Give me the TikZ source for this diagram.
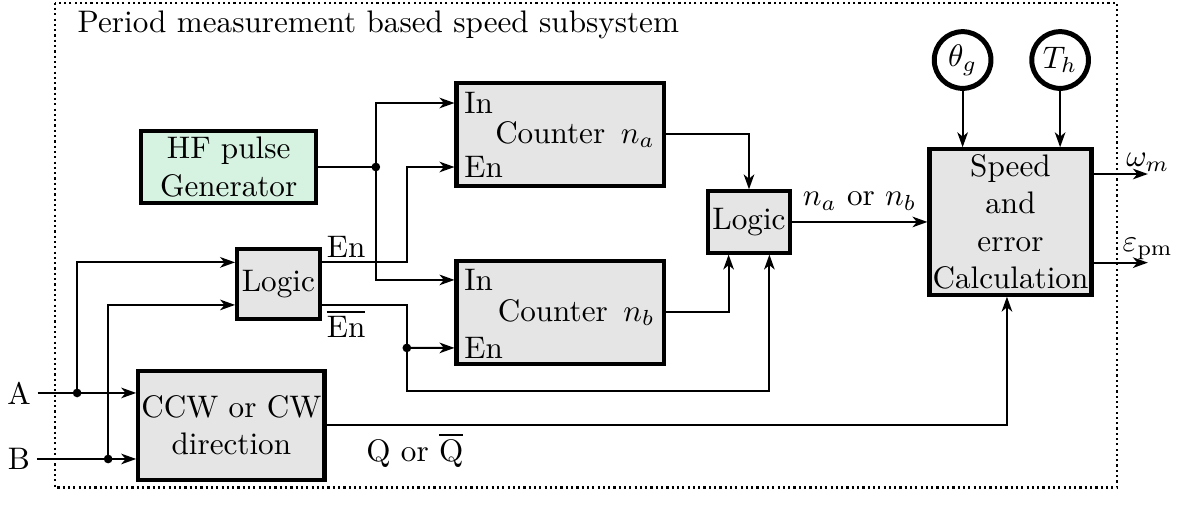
\documentclass[tikz,border=0pt]{standalone}
\usepackage{amsmath}
\usepackage{tikz}
\usetikzlibrary{arrows.meta, positioning, calc}
\definecolor{blockgray}{RGB}{229,229,229}
\definecolor{hfgreen}{RGB}{214,242,225}
\tikzset{
  block/.style={rectangle, draw=black, fill=blockgray, line width=1.3pt,
    align=center, inner sep=1pt},
  genblock/.style={block, fill=hfgreen},
  cntblock/.style={block, minimum width=2.34cm, minimum height=1.17cm,
    text width=2.13cm, align=right},
  srcnode/.style={circle, draw=black, line width=1.6pt,
    minimum size=0.64cm, inner sep=0pt},
  junc/.style={circle, fill=black, inner sep=0pt, minimum size=2.8pt},
  arrow/.style={-{Stealth[length=4.8pt, width=3.4pt, inset=1.4pt]}, line width=0.65pt},
  line/.style={line width=0.65pt},
  port/.style={anchor=west, inner sep=3pt}
}

\begin{document}
\begin{tikzpicture}
  \useasboundingbox (0,0) rectangle (13.38,-5.855);
  % Draw subsystem frame and title
  \draw[densely dotted, line width=0.7pt] (0.62,-0.03) rectangle (12.60,-5.50);
  \node[anchor=base west, inner sep=0pt] (title) at (0.87,-0.37) {Period measurement based speed subsystem};

  % Draw blocks
  \node[genblock, minimum width=1.97cm, minimum height=0.81cm] (hf) at (2.58,-1.884) {HF pulse\\Generator};
  \node[block, minimum width=0.93cm, minimum height=0.79cm] (logica) at (3.14,-3.20) {Logic};
  \node[block, minimum width=2.02cm, minimum height=1.23cm] (ccw) at (2.61,-4.80) {CCW or CW\\direction};
  \node[cntblock] (cnta) at (6.32,-1.517) {Counter\enspace$n_a$};
  \node[cntblock] (cntb) at (6.32,-3.525) {Counter\enspace$n_b$};
  \node[block, minimum width=0.92cm, minimum height=0.69cm] (logicb) at (8.45,-2.504) {Logic};
  \node[block, minimum width=1.79cm, minimum height=1.64cm] (speed) at (11.40,-2.504) {Speed\\and\\error\\Calculation};
  \node[srcnode] (theta) at (10.86,-0.677) {$\theta_g$};
  \node[srcnode] (th) at (11.96,-0.677) {$T_h$};

  % Counter ports
  \coordinate (cntaIn) at ($(cnta.west)+(0,0.355)$);
  \coordinate (cntaEn) at ($(cnta.west)+(0,-0.367)$);
  \coordinate (cntbIn) at ($(cntb.west)+(0,0.367)$);
  \coordinate (cntbEn) at ($(cntb.west)+(0,-0.40)$);
  \node[port] (pain) at (cntaIn) {In};
  \node[port] (paen) at (cntaEn) {En};
  \node[port] (pbin) at (cntbIn) {In};
  \node[port] (pben) at (cntbEn) {En};

  % Inputs and junctions
  \node[inner sep=2pt] (ina) at (0.214,-4.433) {A};
  \node[inner sep=2pt] (inb) at (0.214,-5.178) {B};
  \node[junc] (ja) at (0.87,-4.433) {};
  \node[junc] (jb) at (1.22,-5.178) {};
  \node[junc] (jhf) at (4.24,-1.884) {};
  \node[junc] (jen) at (4.59,-3.925) {};

  % A and B signals
  \draw[arrow] (ina) -- (ina -| ccw.west);
  \draw[arrow] (inb) -- (inb -| ccw.west);
  \draw[arrow] (ja.center) |- ($(logica.west)+(0,0.24)$);
  \draw[arrow] (jb.center) |- ($(logica.west)+(0,-0.24)$);

  % HF pulses to counters
  \draw[line] (hf.east) -- (jhf.center);
  \draw[arrow] (jhf.center) |- (cntaIn);
  \draw[arrow] (jhf.center) |- (cntbIn);

  % Enable signals
  \draw[arrow] ($(logica.east)+(0,0.24)$) -| (jen |- cntaEn) -- (cntaEn);
  \node[anchor=south west, inner sep=1.5pt] (lblen) at ($(logica.east)+(0,0.24)$) {En};
  \draw[line] ($(logica.east)+(0,-0.24)$) -| (jen.center);
  \node[anchor=north west, inner sep=1.5pt] (lblenbar) at ($(logica.east)+(0,-0.24)$) {$\overline{\text{En}}$};
  \draw[arrow] (jen.center) -- (cntbEn);
  \coordinate (enbar) at ($(logicb.south)+(0.23,0)$);
  \draw[arrow] (jen.center) |- (enbar |- 0,-4.41) -- (enbar);

  % Counter outputs
  \draw[arrow] (cnta.east) -| (logicb.north);
  \draw[arrow] (cntb.east) -| ($(logicb.south)+(-0.23,0)$);
  \draw[arrow] (logicb) -- node[above] (lblnab) {$n_a$ or $n_b$} (speed);

  % Speed calculation inputs and outputs
  \draw[arrow] (theta) -- (theta |- speed.north);
  \draw[arrow] (th) -- (th |- speed.north);
  \draw[arrow] (ccw.east) -| ($(speed.south)+(-0.04,0)$);
  \node (lblq) at (4.68,-5.08) {Q or $\overline{\text{Q}}$};
  \coordinate (om) at (12.95,-1.963);
  \coordinate (ep) at (12.95,-2.963);
  \draw[arrow] (speed.east |- om) -- (om) node[above, inner sep=0.5pt] (lblom) {$\omega_m$};
  \draw[arrow] (speed.east |- ep) -- (ep) node[above, inner sep=0.5pt] (lblep) {$\varepsilon_{\mathrm{pm}}$};
\end{tikzpicture}
\end{document}
